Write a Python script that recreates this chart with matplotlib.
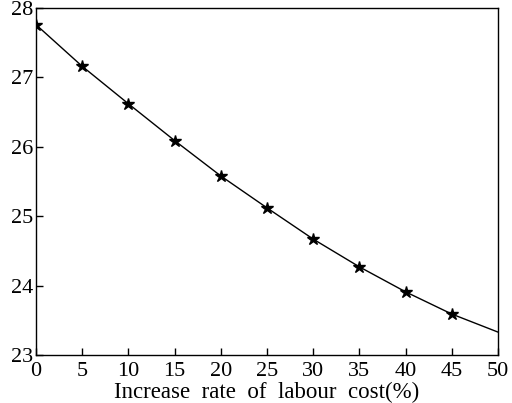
import matplotlib
matplotlib.use("Agg")
import matplotlib.pyplot as plt

rate = [0, 5, 10, 15, 20, 25, 30, 35, 40, 45, 50]
value = [27.76, 27.16, 26.62, 26.09, 25.58, 25.12, 24.67, 24.27, 23.91, 23.59, 23.33]
xticks = [0, 5, 10, 15, 20, 25, 30, 35, 40, 45, 50]
yticks = [23, 24, 25, 26, 27, 28]

plt.rcParams['font.family'] = ['Liberation Serif', 'DejaVu Serif']

fig = plt.figure(figsize=(5.12, 4.03), dpi=100)
ax = fig.add_axes([36/512, 1 - 355/403, (498-36)/512, (355-8)/403])
ax.plot(rate, value, color='black', lw=1.0, marker='*', markersize=9,
        markevery=list(range(10)), markerfacecolor='black', markeredgecolor='black')
ax.set_xlim(0, 50)
ax.set_ylim(23, 28)
ax.set_xticks(xticks)
ax.set_yticks(yticks)
ax.tick_params(direction='in', length=5, width=1, labelsize=16)
ax.tick_params(axis='x', pad=5)
ax.tick_params(axis='y', pad=2)
for s in ax.spines.values():
    s.set_linewidth(1.0)
ax.set_xlabel('Increase  rate  of  labour  cost(%)', fontsize=16.5, labelpad=1)
fig.savefig('out.png', dpi=100)
